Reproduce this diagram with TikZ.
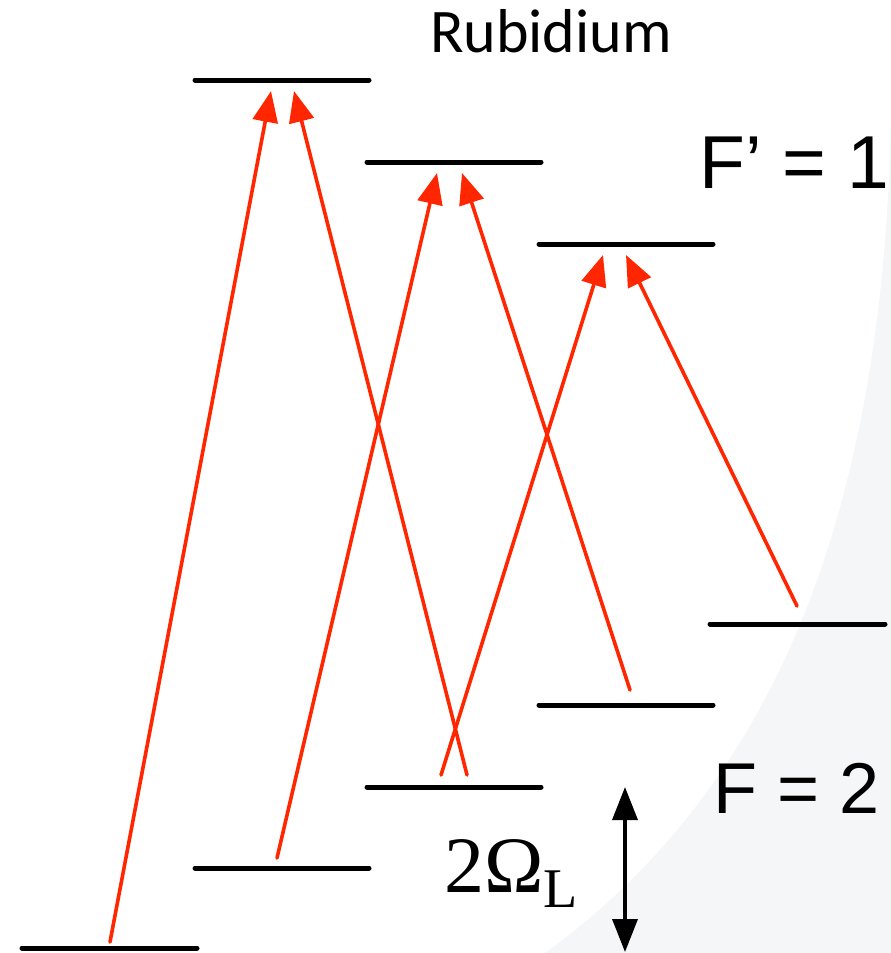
\documentclass[tikz,border=0pt]{standalone}
\usepackage{fontspec}
\setmainfont{Liberation Serif}
\newfontfamily\calib{Carlito}
\newfontfamily\arialf{Liberation Sans}
\usetikzlibrary{arrows.meta}
\definecolor{laser}{RGB}{255,38,0}
\definecolor{bgshade}{RGB}{245,246,248}
\tikzset{
  level/.style={line width=5pt, line cap=round, black},
  pump/.style={line width=3.6pt, laser, line cap=round, -{Triangle[length=31pt,width=25pt]}},
  split/.style={line width=3.6pt, black, {Triangle[length=33pt,width=25pt]}-{Triangle[length=33pt,width=25pt]}},
}
\begin{document}
\begin{tikzpicture}[x=1pt,y=-1pt]
\useasboundingbox (0,0) rectangle (891,953);
% background shade
\fill[bgshade] (891,110) .. controls (885,520) and (770,790) .. (545,953) -- (891,953) -- cycle;
% lower levels F=2
\draw[level] (22,948) -- (197,948);
\draw[level] (195,868) -- (369,868);
\draw[level] (367,787) -- (541,787);
\draw[level] (539,705) -- (713,705);
\draw[level] (710,624) -- (885,624);
% upper levels F'=1
\draw[level] (195,80) -- (369,80);
\draw[level] (367,162) -- (541,162);
\draw[level] (539,244) -- (713,244);
% endpoints
\coordinate (t1) at (110,942);
\coordinate (h1) at (271,91);
\coordinate (t2) at (467,775);
\coordinate (h2) at (294,91);
\coordinate (t3) at (277,858);
\coordinate (h3) at (437,173);
\coordinate (t4) at (630,690);
\coordinate (h4) at (462,173);
\coordinate (t5) at (441,775);
\coordinate (h5) at (603,255);
\coordinate (t6) at (797,606);
\coordinate (h6) at (626,255);
\draw[pump] (t1) -- (h1);
\draw[pump] (t2) -- (h2);
\draw[pump] (t3) -- (h3);
\draw[pump] (t4) -- (h4);
\draw[pump] (t5) -- (h5);
\draw[pump] (t6) -- (h6);
% splitting arrow
\coordinate (s1) at (625,787);
\coordinate (s2) at (625,952);
\draw[split] (s1) -- (s2);
% labels
\node[anchor=base, inner sep=0pt] (title) at (551,52) {\calib\fontsize{62}{62}\selectfont Rubidium};
\node[anchor=base, inner sep=0pt] (fp) at (794,188) {\arialf\fontsize{75}{75}\selectfont F’ = 1};
\node[anchor=base, inner sep=0pt] (f) at (797,813) {\arialf\fontsize{72}{72}\selectfont F = 2};
\node[anchor=base west, inner sep=0pt] (om) at (444,892) {\fontsize{80}{80}\selectfont 2Ω\raisebox{-15pt}{\fontsize{56}{56}\selectfont L}};
\end{tikzpicture}
\end{document}
